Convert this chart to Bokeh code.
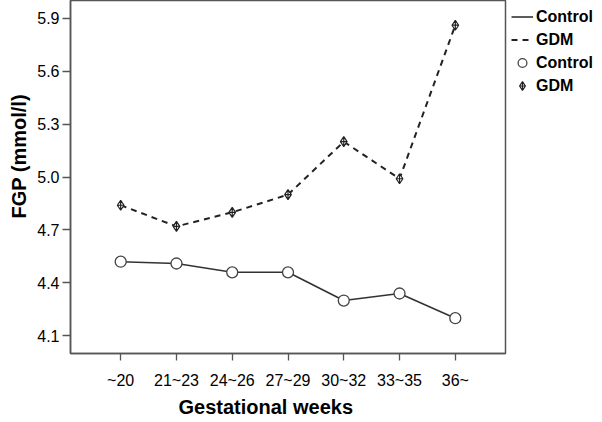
from bokeh.plotting import figure
from bokeh.models import (FactorRange, Range1d, FixedTicker, PrintfTickFormatter,
                          Legend, LegendItem, Title)
from bokeh.embed import file_html
from bokeh.resources import INLINE

# ---- data ----
weeks = ["~20", "21~23", "24~26", "27~29", "30~32", "33~35", "36~"]
control = [4.52, 4.51, 4.46, 4.46, 4.30, 4.34, 4.20]
gdm = [4.84, 4.72, 4.80, 4.90, 5.20, 4.99, 5.86]
y_ticks = [4.1, 4.4, 4.7, 5.0, 5.3, 5.6, 5.9]
x_title = "Gestational weeks"
y_title = "FGP (mmol/l)"

FONT = "Liberation Sans"

p = figure(x_range=FactorRange(factors=weeks, range_padding=0.4,
                               range_padding_units="absolute"),
           y_range=Range1d(4.0, 6.0),
           frame_width=435, frame_height=353,
           output_backend="svg", toolbar_location=None, min_border=0)

p.xgrid.visible = False
p.ygrid.visible = False
p.outline_line_color = "#555555"
p.outline_line_width = 1.5

l_ctrl = p.line(weeks, control, line_color="#333333", line_width=1.6)
l_gdm = p.line(weeks, gdm, line_color="#222222", line_width=2, line_dash="6 5")
m_ctrl = p.scatter(weeks, control, marker="circle", size=11, fill_color="white",
                   line_color="#444444", line_width=1.3)
m_gdm = p.scatter(weeks, gdm, marker="diamond_cross", size=10, fill_color="white",
                  line_color="#222222", line_width=1.2)

for ax in (p.xaxis[0], p.yaxis[0]):
    ax.axis_line_color = "#555555"
    ax.axis_line_width = 1.5
    ax.major_tick_line_color = "#555555"
    ax.major_tick_line_width = 1.3
    ax.major_tick_in = 0
    ax.minor_tick_line_color = None
    ax.major_label_text_font = FONT
    ax.major_label_text_color = "black"

p.xaxis.major_tick_out = 7
p.xaxis.major_label_standoff = 11
p.xaxis.major_label_text_font_size = "16px"

p.yaxis.ticker = FixedTicker(ticks=y_ticks)
p.yaxis.formatter = PrintfTickFormatter(format="%.1f")
p.yaxis.major_tick_out = 8
p.yaxis.major_label_standoff = 3
p.yaxis.major_label_text_font_size = "16px"

xt = Title(text=x_title, align="left", offset=108, standoff=4,
           text_font=FONT, text_font_style="bold", text_font_size="20px",
           text_color="black")
yt = Title(text=y_title, align="left", offset=135, standoff=10,
           text_font=FONT, text_font_style="bold", text_font_size="20px",
           text_color="black")
p.add_layout(xt, "below")
p.add_layout(yt, "left")

legend = Legend(items=[LegendItem(label="Control", renderers=[l_ctrl]),
                       LegendItem(label="GDM", renderers=[l_gdm]),
                       LegendItem(label="Control", renderers=[m_ctrl]),
                       LegendItem(label="GDM", renderers=[m_gdm])],
                location=(6, 256), padding=7, margin=0, spacing=0,
                glyph_width=22, glyph_height=23, label_height=20,
                label_standoff=3, border_line_color=None,
                background_fill_alpha=0,
                label_text_font=FONT, label_text_font_style="bold",
                label_text_font_size="16px", label_text_color="black")
p.add_layout(legend, "right")

open("out.html", "w").write(file_html(p, INLINE))
